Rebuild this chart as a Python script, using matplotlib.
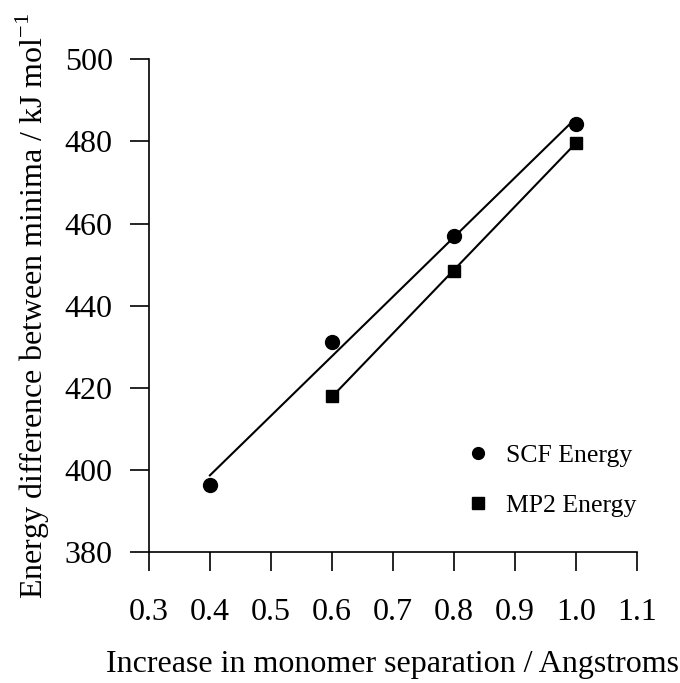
import numpy as np
import matplotlib
matplotlib.use("Agg")
import matplotlib.pyplot as plt
from matplotlib.lines import Line2D

plt.rcParams['font.family'] = ['Liberation Serif', 'DejaVu Serif']
plt.rcParams['mathtext.fontset'] = 'custom'
plt.rcParams['mathtext.rm'] = 'Liberation Serif'

scf_x = [0.4, 0.6, 0.8, 1.0]
scf_y = [396.3, 431.2, 457.1, 484.2]
mp2_x = [0.6, 0.8, 1.0]
mp2_y = [418.0, 448.4, 479.7]
xticks = [0.3, 0.4, 0.5, 0.6, 0.7, 0.8, 0.9, 1.0, 1.1]
yticks = [380, 400, 420, 440, 460, 480, 500]

fig = plt.figure(figsize=(6.8, 6.83), dpi=100)
ax = fig.add_axes([0.219, 0.1911, 0.7173, 0.7221])

for xs, ys, m, ms in [(scf_x, scf_y, 'o', 10), (mp2_x, mp2_y, 's', 9)]:
    xs = np.array(xs); ys = np.array(ys)
    k, b = np.polyfit(xs, ys, 1)
    xl = np.array([xs.min(), xs.max()])
    ax.plot(xl, k * xl + b, color='black', lw=1.5, zorder=2)
    ax.plot(xs, ys, linestyle='none', marker=m, ms=ms, color='black', zorder=3)

ax.set_xlim(0.3, 1.1)
ax.set_ylim(380, 500)
ax.set_xticks(xticks)
ax.set_xticklabels([f"{v:.1f}" for v in xticks])
ax.set_yticks(yticks)
ax.set_yticklabels([str(v) for v in yticks])
for s in ['top', 'right']:
    ax.spines[s].set_visible(False)
for s in ['left', 'bottom']:
    ax.spines[s].set_linewidth(1.2)
ax.tick_params(axis='both', direction='out', length=14, width=1.2, labelsize=23)
ax.tick_params(axis='x', pad=19)
ax.tick_params(axis='y', pad=12)

ax.set_xlabel('Increase in monomer separation / Angstroms', fontsize=23, labelpad=16)
ax.set_ylabel('Energy difference between minima / kJ mol$^{-1}$', fontsize=23, labelpad=9)

handles = [Line2D([], [], linestyle='none', marker='o', ms=8.5, color='black'),
           Line2D([], [], linestyle='none', marker='s', ms=8, color='black')]
ax.legend(handles, ['SCF Energy', 'MP2 Energy'], loc='upper left',
          bbox_to_anchor=(0.627, 0.24), frameon=False, fontsize=18.5,
          handlelength=1.0, handletextpad=0.6, labelspacing=1.02, borderaxespad=0)

fig.savefig('out.png', dpi=100)
